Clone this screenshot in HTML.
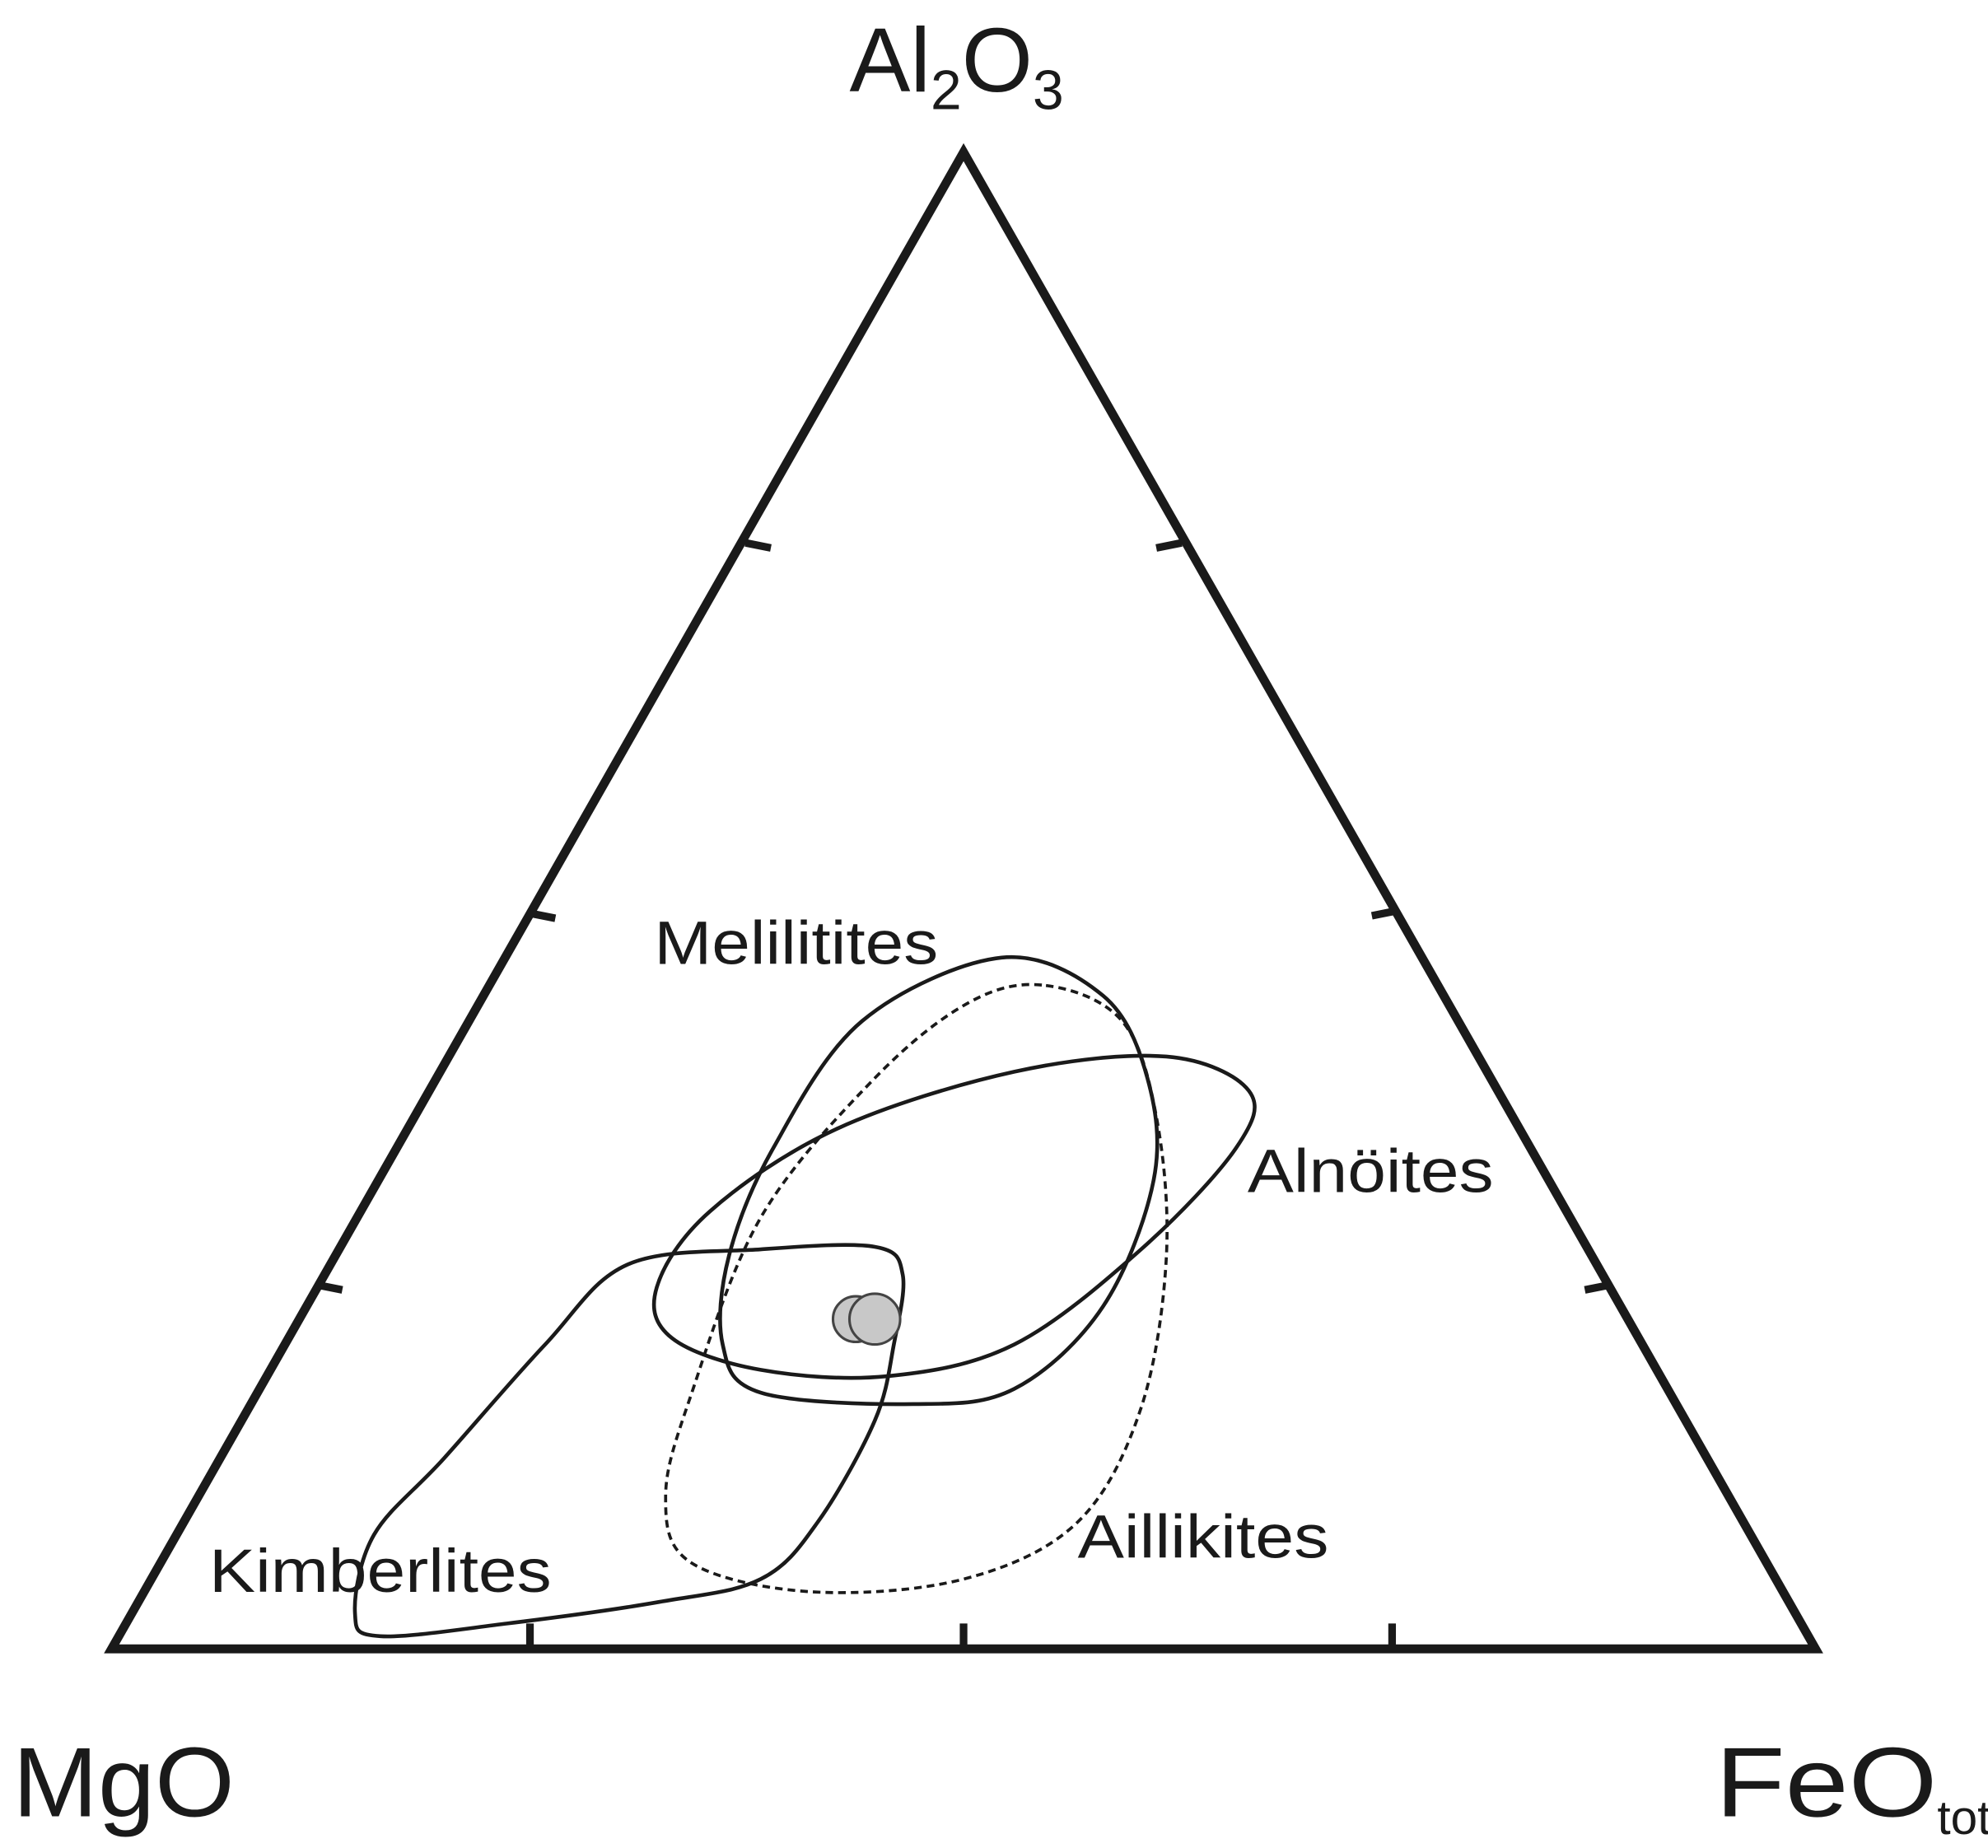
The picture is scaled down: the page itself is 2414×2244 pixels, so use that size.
<!DOCTYPE html>
<html><head><meta charset="utf-8"><style>
html,body{margin:0;padding:0;background:#fff;}
svg{display:block}
text{font-family:"Liberation Sans",Arial,sans-serif;fill:#1a1a1a}
</style></head><body>
<svg id="s" width="2414" height="2244" viewBox="0 0 1568 1457" preserveAspectRatio="none" xmlns="http://www.w3.org/2000/svg">
<polygon points="760,120 88,1300 1432,1300" fill="none" stroke="#1a1a1a" stroke-width="7" stroke-linejoin="miter"/>
<g stroke="#1a1a1a" stroke-width="6">
<line x1="588" y1="428" x2="608" y2="432"/>
<line x1="418" y1="720" x2="438" y2="724"/>
<line x1="250" y1="1013" x2="270" y2="1017"/>
<line x1="932" y1="428" x2="912" y2="432"/>
<line x1="1102" y1="718" x2="1082" y2="722"/>
<line x1="1270" y1="1013" x2="1250" y2="1017"/>
<line x1="418" y1="1300" x2="418" y2="1280"/>
<line x1="760" y1="1300" x2="760" y2="1280"/>
<line x1="1098" y1="1300" x2="1098" y2="1280"/>
</g>
<g id="curves" fill="none" stroke="#1a1a1a" stroke-width="3"></g>
<circle cx="675" cy="1040" r="18" fill="#c8c8c8" stroke="#444" stroke-width="2"/>
<circle cx="690" cy="1040" r="20" fill="#c8c8c8" stroke="#444" stroke-width="2"/>
<text x="670" y="72" font-size="72">Al<tspan font-size="44" dy="14">2</tspan><tspan dy="-14">O</tspan><tspan font-size="44" dy="14">3</tspan></text>
<text x="10" y="1432" font-size="78" textLength="175" lengthAdjust="spacingAndGlyphs">MgO</text>
<text x="1353" y="1432" font-size="78" textLength="175" lengthAdjust="spacingAndGlyphs">FeO</text>
<text x="1528" y="1446" font-size="38">tot</text>
<text x="516" y="760" font-size="48" textLength="224" lengthAdjust="spacingAndGlyphs">Melilitites</text>
<text x="984" y="940" font-size="48" textLength="194" lengthAdjust="spacingAndGlyphs">Alnöites</text>
<text x="850" y="1228" font-size="48" textLength="198" lengthAdjust="spacingAndGlyphs">Aillikites</text>
<text x="165" y="1255" font-size="48" textLength="270" lengthAdjust="spacingAndGlyphs">Kimberlites</text>
</svg>
<script>
function cr(p){var n=p.length,d="M"+p[0][0]+","+p[0][1];
for(var i=0;i<n;i++){var p0=p[(i-1+n)%n],p1=p[i],p2=p[(i+1)%n],p3=p[(i+2)%n];
d+=" C"+(p1[0]+(p2[0]-p0[0])/6)+","+(p1[1]+(p2[1]-p0[1])/6)+" "+(p2[0]-(p3[0]-p1[0])/6)+","+(p2[1]-(p3[1]-p1[1])/6)+" "+p2[0]+","+p2[1];}
return d+"Z";}
var C=[
[[495,997],[600,985],[690,983],[712,1005],[705,1060],[690,1120],[645,1200],[600,1245],[520,1263],[400,1280],[300,1290],[280,1272],[295,1210],[350,1150],[430,1060]],
[[518,1015],[560,955],[660,890],[800,845],[920,833],[985,860],[975,905],[900,985],[800,1060],[700,1085],[600,1080],[530,1055]],
[[790,755],[870,785],[905,850],[910,930],[870,1030],[800,1095],[720,1107],[600,1098],[570,1060],[575,990],[610,905],[680,805]],
[[825,777],[885,805],[912,880],[920,990],[900,1110],[850,1200],[760,1245],[640,1255],[545,1232],[525,1180],[545,1100],[600,960],[690,850],[765,790]]];
var g=document.getElementById("curves");
C.forEach(function(p,i){var e=document.createElementNS("http://www.w3.org/2000/svg","path");e.setAttribute("d",cr(p));if(i==3){e.setAttribute("stroke-dasharray","6,4");e.setAttribute("stroke-width","2.4");}g.appendChild(e);});
</script>
</body></html>
